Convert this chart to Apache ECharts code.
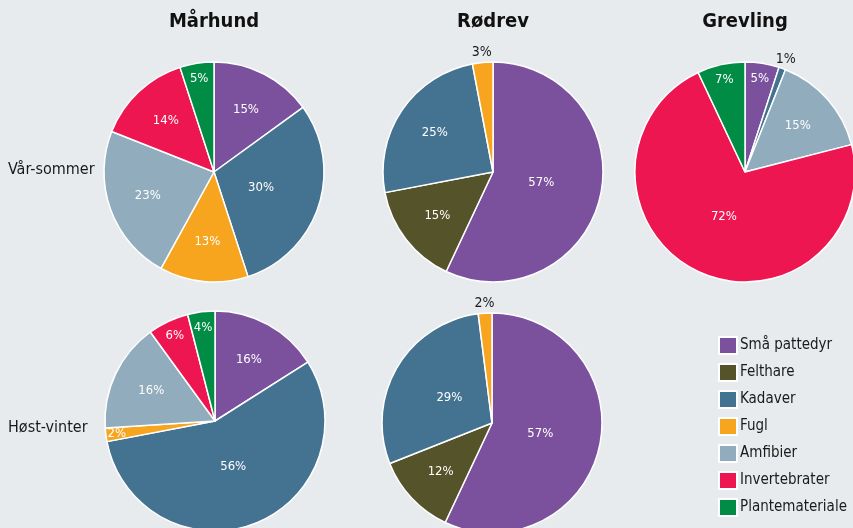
<!DOCTYPE html>
<html>
<head>
<meta charset="utf-8">
<script src="https://cdn.jsdelivr.net/npm/echarts@6/dist/echarts.min.js"></script>
<style>
  html, body { margin: 0; padding: 0; background: #e8ebee; }
  #chart { width: 853px; height: 528px; }
</style>
</head>
<body>
<div id="chart"></div>
<script>
// kategorier og farger
var categories = ['Små pattedyr', 'Felthare', 'Kadaver', 'Fugl', 'Amfibier', 'Invertebrater', 'Plantemateriale'];
var colors = ['#7b519d', '#55532a', '#447391', '#f7a51f', '#90acbd', '#ee1651', '#008c45'];

// andel (%) per kategori, i samme rekkefølge som categories
var marhundSommer  = [15, 0, 30, 13, 23, 14, 5];
var rodrevSommer   = [57, 15, 25, 3, 0, 0, 0];
var grevlingSommer = [5, 0, 1, 0, 15, 72, 7];
var marhundVinter  = [16, 0, 56, 2, 16, 6, 4];
var rodrevVinter   = [57, 12, 29, 2, 0, 0, 0];

var columnTitles = ['Mårhund', 'Rødrev', 'Grevling'];
var rowTitles = ['Vår-sommer', 'Høst-vinter'];

var FONT = "'Liberation Sans Narrow', 'DejaVu Sans Condensed', 'Roboto', sans-serif";
var R = 110;

var pies = [
  { values: marhundSommer,  cx: 214, cy: 172 },
  { values: rodrevSommer,   cx: 493, cy: 172 },
  { values: grevlingSommer, cx: 745, cy: 172 },
  { values: marhundVinter,  cx: 215, cy: 421 },
  { values: rodrevVinter,   cx: 492, cy: 423 }
];

// midtvinkel (grader, fra kl 12 med klokka) for hver bit
function slices(values){
  var total = 0, acc = 0, out = [];
  values.forEach(function(v){ total += v; });
  values.forEach(function(v, i){
    if (!v) return;
    var mid = (acc + v / 2) / total * 360;
    acc += v;
    out.push({ idx: i, pct: v, angle: mid });
  });
  return out;
}

function isOutside(s){
  var a = s.angle > 180 ? 360 - s.angle : s.angle;
  return s.pct <= 3 && a < 40;
}

function labelDist(s){
  if (isOutside(s)) return R + 10;
  if (s.pct <= 3) return R * 0.9;
  if (s.pct <= 7) return R * 0.86;
  if (s.pct < 28) return R * 0.64;
  return R * 0.45;
}

var series = pies.map(function(p){
  var sl = slices(p.values);
  return {
    type: 'pie',
    center: [p.cx, p.cy],
    radius: R,
    startAngle: 90,
    clockwise: true,
    silent: true,
    itemStyle: { borderColor: '#ffffff', borderWidth: 1.5 },
    label: {
      show: true,
      position: 'inside',
      formatter: '{c}%',
      color: '#ffffff',
      fontFamily: FONT,
      fontSize: 13
    },
    labelLine: { show: false },
    labelLayout: function(params){
      var s = sl[params.dataIndex];
      var d = labelDist(s);
      var rad = s.angle * Math.PI / 180;
      return {
        x: p.cx + d * Math.sin(rad),
        y: p.cy - d * Math.cos(rad),
        align: 'center',
        verticalAlign: 'middle'
      };
    },
    data: sl.map(function(s){
      var item = {
        name: categories[s.idx],
        value: s.pct,
        itemStyle: { color: colors[s.idx] }
      };
      if (isOutside(s)) item.label = { color: '#1a1a1a', fontSize: 14 };
      return item;
    })
  };
});

var titleX = [214, 493, 745];
var rowY = [170, 428];
var graphic = [];
columnTitles.forEach(function(t, i){
  graphic.push({
    type: 'text', x: titleX[i], y: 22, silent: true,
    style: { text: t, align: 'center', verticalAlign: 'middle',
             font: 'bold 20px ' + FONT, fill: '#111111' }
  });
});
rowTitles.forEach(function(t, i){
  graphic.push({
    type: 'text', x: 8, y: rowY[i], silent: true,
    style: { text: t, align: 'left', verticalAlign: 'middle',
             font: '16px ' + FONT, fill: '#1a1a1a' }
  });
});

var chart = echarts.init(document.getElementById('chart'));
chart.setOption({
  backgroundColor: '#e8ebee',
  animation: false,
  color: colors,
  legend: {
    orient: 'vertical',
    left: 718,
    top: 336,
    padding: 0,
    itemWidth: 18,
    itemHeight: 17,
    itemGap: 8,
    icon: 'rect',
    selectedMode: false,
    data: categories,
    textStyle: { fontFamily: FONT, fontSize: 15, color: '#1a1a1a', padding: [0, 0, 0, -2] }
  },
  graphic: graphic,
  series: series
});
</script>
</body>
</html>
